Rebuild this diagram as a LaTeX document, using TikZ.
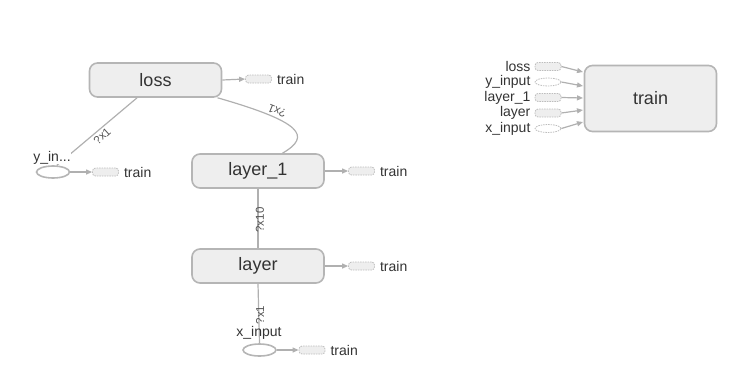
\documentclass[tikz,border=0pt]{standalone}
\usepackage{fontspec}
\setmainfont{Liberation Sans}
\usetikzlibrary{arrows.meta,shapes.geometric}
\definecolor{boxfill}{HTML}{EEEEEE}
\definecolor{boxdraw}{HTML}{B5B5B5}
\definecolor{stubdraw}{HTML}{BDBDBD}
\definecolor{edgec}{HTML}{B0B0B0}
\definecolor{txt}{HTML}{333333}
\definecolor{elbl}{HTML}{555555}
\begin{document}
\begin{tikzpicture}[x=1pt,y=-1pt,
  opbox/.style={draw=boxdraw, fill=boxfill, line width=1.6pt, rounded corners=8pt,
    minimum width=132pt, minimum height=34pt, inner sep=0pt,
    font=\fontsize{18}{21}\selectfont, text=txt},
  bigbox/.style={opbox, minimum height=66pt},
  phold/.style={draw=boxdraw, fill=white, line width=1.6pt, ellipse,
    minimum width=33pt, minimum height=12pt, inner sep=0pt},
  stubrect/.style={draw=stubdraw, fill=boxfill, line width=0.8pt, dash pattern=on 1.5pt off 1pt,
    rounded corners=3pt, minimum width=26pt, minimum height=8pt, inner sep=0pt},
  stubell/.style={draw=stubdraw, fill=white, line width=0.8pt, dash pattern=on 1.5pt off 1pt,
    ellipse, minimum width=26pt, minimum height=8pt, inner sep=0pt},
  lbl/.style={font=\fontsize{14}{16}\selectfont, text=txt, inner sep=0pt},
  elabel/.style={font=\fontsize{11.5}{13}\selectfont, text=elbl, inner sep=0pt},
  edge/.style={draw=edgec, line width=1.2pt},
  arr/.style={edge, -{Triangle[length=6pt,width=5pt]}},
]
\useasboundingbox (0,0) rectangle (736,370);

% main graph nodes
\node[opbox] (loss) at (155.5,80) {loss};
\node[opbox] (layer1) at (258,171) {layer\_1};
\node[opbox] (layer) at (258,266) {layer};
\node[phold] (yin) at (53,172) {};
\node[phold] (xin) at (259.5,350) {};

% edges between main nodes
\draw[edge] (loss.-136) -- (yin.60);
\draw[edge] (loss.-16) .. controls (302,122) and (312,136) .. (layer1.36);
\draw[edge] (layer1.south) -- (layer.north);
\draw[edge] (layer.south) -- (xin.north);

% labels of placeholders
\node[lbl, anchor=base, fill=white, inner sep=0.5pt] (yinl) at (52,161) {y\_in...};
\node[lbl, anchor=base] (xinl) at (259,336) {x\_input};

% edge labels
\node[elabel, rotate=42] (e1) at (102,136) {?x1};
\node[elabel, rotate=158] (e2) at (277,111) {?x1};
\node[elabel, rotate=90] (e3) at (260,220) {?x10};
\node[elabel, rotate=90] (e4) at (260,315) {?x1};

% train stubs on the left graph
\node[stubrect] (s1) at (258.5,79) {};
\node[stubrect] (s2) at (105.5,172) {};
\node[stubrect] (s3) at (361.5,171) {};
\node[stubrect] (s4) at (361.5,266) {};
\node[stubrect] (s5) at (312,350) {};
\draw[arr] (loss.east) -- (s1.west);
\draw[arr] (yin.east) -- (s2.west);
\draw[arr] (layer1.east) -- (s3.west);
\draw[arr] (layer.east) -- (s4.west);
\draw[arr] (xin.east) -- (s5.west);
\node[lbl, anchor=west] (t1) at ([xshift=5pt]s1.east) {train};
\node[lbl, anchor=west] (t2) at ([xshift=5pt]s2.east) {train};
\node[lbl, anchor=west] (t3) at ([xshift=5pt]s3.east) {train};
\node[lbl, anchor=west] (t4) at ([xshift=5pt]s4.east) {train};
\node[lbl, anchor=west] (t5) at ([xshift=5pt]s5.east) {train};

% train node on the right
\node[bigbox] (train) at (650.5,98.5) {train};
\node[stubrect] (r1) at (548,66.5) {};
\node[stubell] (r2) at (548,82) {};
\node[stubrect] (r3) at (548,97.5) {};
\node[stubrect] (r4) at (548,113) {};
\node[stubell] (r5) at (548,128.5) {};
\node[lbl, anchor=east] (rl1) at ([xshift=-4pt]r1.west) {loss};
\node[lbl, anchor=east] (rl2) at ([xshift=-4pt]r2.west) {y\_input};
\node[lbl, anchor=east] (rl3) at ([xshift=-4pt]r3.west) {layer\_1};
\node[lbl, anchor=east] (rl4) at ([xshift=-4pt]r4.west) {layer};
\node[lbl, anchor=east] (rl5) at ([xshift=-4pt]r5.west) {x\_input};
\coordinate (i1) at (583,72);
\coordinate (i2) at (583,86);
\coordinate (i3) at (583,98);
\coordinate (i4) at (583,110);
\coordinate (i5) at (583,122);
\draw[arr] (r1.east) -- (i1);
\draw[arr] (r2.east) -- (i2);
\draw[arr] (r3.east) -- (i3);
\draw[arr] (r4.east) -- (i4);
\draw[arr] (r5.east) -- (i5);
\end{tikzpicture}
\end{document}
